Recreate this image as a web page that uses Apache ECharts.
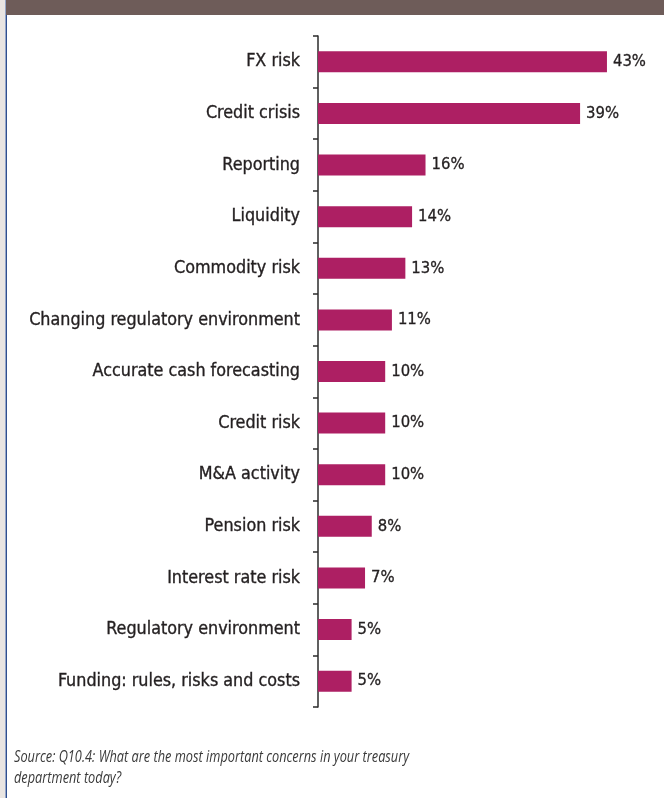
<!DOCTYPE html>
<html>
<head>
<meta charset="utf-8">
<script src="https://cdn.jsdelivr.net/npm/echarts@6/dist/echarts.min.js"></script>
<style>
html,body{margin:0;padding:0;background:#fff;}
#chart{width:664px;height:798px;}
</style>
</head>
<body>
<div id="chart"></div>
<script>
const categories = [
  "FX risk",
  "Credit crisis",
  "Reporting",
  "Liquidity",
  "Commodity risk",
  "Changing regulatory environment",
  "Accurate cash forecasting",
  "Credit risk",
  "M&A activity",
  "Pension risk",
  "Interest rate risk",
  "Regulatory environment",
  "Funding: rules, risks and costs"
];
const values = [43, 39, 16, 14, 13, 11, 10, 10, 10, 8, 7, 5, 5];
const sourceLines = [
  "Source: Q10.4: What are the most important concerns in your treasury",
  "department today?"
];

const condensed = '"DejaVu Sans Condensed", "Roboto", sans-serif';
const chart = echarts.init(document.getElementById('chart'), null, {renderer: 'canvas'});
chart.setOption({
  backgroundColor: '#ffffff',
  animation: false,
  grid: {left: 318, right: 10, top: 36, bottom: 91, containLabel: false},
  xAxis: {
    type: 'value', min: 0, max: 50, show: false
  },
  yAxis: {
    type: 'category',
    inverse: true,
    data: categories,
    axisLine: {show: true, lineStyle: {color: '#2b2b2b', width: 1.5}},
    axisTick: {show: true, inside: false, length: 5, alignWithLabel: false, lineStyle: {color: '#2b2b2b', width: 1.5}},
    axisLabel: {margin: 18, color: '#231f20', fontFamily: condensed, fontSize: 17.8,
      textBorderColor: '#231f20', textBorderWidth: 0.35, padding: [2, 0, 0, 0]},
    splitLine: {show: false}
  },
  series: [{
    type: 'bar',
    data: values,
    barWidth: 21,
    itemStyle: {color: '#ad1f63'},
    label: {
      show: true, position: 'right', distance: 6,
      formatter: '{c}%',
      color: '#231f20', fontFamily: condensed, fontSize: 16.5,
      textBorderColor: '#231f20', textBorderWidth: 0.3, padding: [3, 0, 0, 0]
    }
  }],
  graphic: [
    {type: 'rect', shape: {x: 0, y: 0, width: 5, height: 798}, style: {fill: '#e9e5e2'}, silent: true},
    {type: 'rect', shape: {x: 5.5, y: 0, width: 1.5, height: 798}, style: {fill: '#2f4f8f'}, silent: true},
    {type: 'rect', shape: {x: 6, y: 0, width: 658, height: 15}, style: {fill: '#6e5c59'}, silent: true},
    {type: 'text', x: 14, y: 747, scaleX: 0.823, style: {
      text: sourceLines.join('\n'),
      fill: '#3a3a3a',
      font: 'italic 15.5px "Open Sans", sans-serif',
      lineHeight: 21
    }}
  ]
});
</script>
</body>
</html>
